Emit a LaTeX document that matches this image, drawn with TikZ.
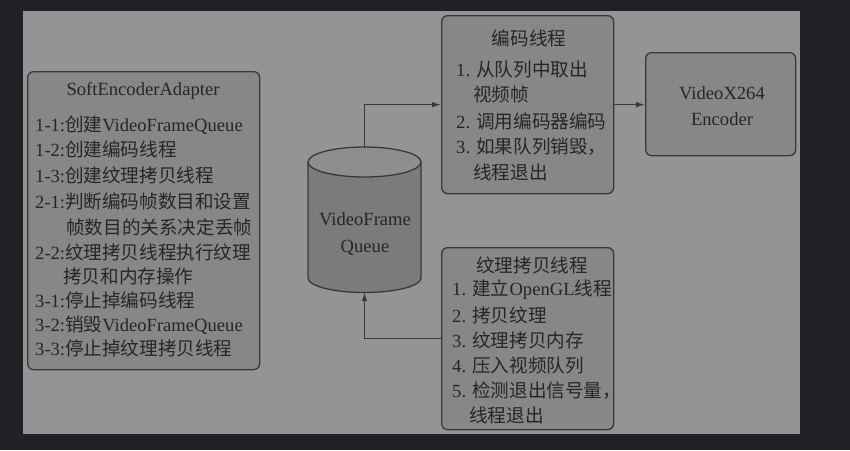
\documentclass[tikz,border=0pt]{standalone}
\usepackage{fontspec}
\setmainfont{Liberation Serif}
\newfontfamily\cjk{Noto Sans CJK SC}
\newcommand{\zh}[1]{{\cjk #1}}
\usetikzlibrary{arrows.meta}
\definecolor{bgdark}{HTML}{202124}
\definecolor{panel}{HTML}{949496}
\definecolor{boxfill}{HTML}{878788}
\definecolor{cylbody}{HTML}{7B7B7C}
\definecolor{cyltop}{HTML}{8E8E8F}
\definecolor{edge}{HTML}{383838}
\definecolor{ink}{HTML}{262626}
\begin{document}
\begin{tikzpicture}[x=1pt,y=-1pt,
  box/.style={draw=edge, line width=1.3pt, fill=boxfill, rounded corners=6pt, inner sep=0pt, anchor=north west},
  txt/.style={anchor=base west, inner sep=0pt, text=ink, font=\fontsize{18.6}{22}\selectfont},
  ctxt/.style={anchor=base, inner sep=0pt, text=ink, font=\fontsize{18.6}{22}\selectfont},
  conn/.style={draw=edge, line width=1.2pt, -{Latex[length=9pt,width=5.5pt]}}]
\useasboundingbox (0,0) rectangle (850,450);
\fill[bgdark] (0,0) rectangle (850,450);
\fill[panel] (23,11) rectangle (800,434);

% boxes
\node[box, minimum width=232pt, minimum height=298pt] (sea) at (27,71) {};
\node[box, minimum width=172pt, minimum height=178pt] (enc) at (441,15) {};
\node[box, minimum width=150pt, minimum height=103pt] (x264) at (645,52) {};
\node[box, minimum width=172pt, minimum height=182pt] (tex) at (441,247) {};

% cylinder
\draw[draw=edge, line width=1.3pt, fill=cylbody] (308,162) -- (308,278)
  arc[start angle=180, end angle=0, x radius=56.5, y radius=14.5] -- (421,162) -- cycle;
\draw[draw=edge, line width=1.3pt, fill=cyltop] (364.5,162) ellipse [x radius=56.5, y radius=15];
\node[minimum width=113pt, minimum height=145pt, inner sep=0pt] (queue) at (364.5,219.5) {};

% SoftEncoderAdapter text
\node[ctxt] (seaT) at (143,95) {SoftEncoderAdapter};
\node[txt] (s1) at (35,131) {1-1:\zh{创建}VideoFrameQueue};
\node[txt] (s2) at (35,156) {1-2:\zh{创建编码线程}};
\node[txt] (s3) at (35,182) {1-3:\zh{创建纹理拷贝线程}};
\node[txt] (s4) at (35,208) {2-1:\zh{判断编码帧数目和设置}};
\node[txt] (s5) at (66,234) {\zh{帧数目的关系决定丢帧}};
\node[txt] (s6) at (35,259) {2-2:\zh{纹理拷贝线程执行纹理}};
\node[txt] (s7) at (63,283) {\zh{拷贝和内存操作}};
\node[txt] (s8) at (35,307) {3-1:\zh{停止掉编码线程}};
\node[txt] (s9) at (35,331) {3-2:\zh{销毁}VideoFrameQueue};
\node[txt] (s10) at (35,355) {3-3:\zh{停止掉纹理拷贝线程}};

% encode thread text
\node[ctxt] (encT) at (529,45) {\zh{编码线程}};
\node[txt] (e1) at (456,76) {1. \zh{从队列中取出}};
\node[txt] (e2) at (473,101) {\zh{视频帧}};
\node[txt] (e3) at (456,128) {2. \zh{调用编码器编码}};
\node[txt] (e4) at (456,153) {3. \zh{如果队列销毁，}};
\node[txt] (e5) at (473,179) {\zh{线程退出}};

% x264 text
\node[ctxt] (x1) at (722,99) {VideoX264};
\node[ctxt] (x2) at (722,125) {Encoder};

% queue text
\node[ctxt] (q1) at (365,225) {VideoFrame};
\node[ctxt] (q2) at (365,252) {Queue};

% texture thread text
\node[ctxt] (texT) at (532,272) {\zh{纹理拷贝线程}};
\node[txt] (t1) at (452,295) {1. \zh{建立}OpenGL\zh{线程}};
\node[txt] (t2) at (452,322) {2. \zh{拷贝纹理}};
\node[txt] (t3) at (452,347) {3. \zh{纹理拷贝内存}};
\node[txt] (t4) at (452,372) {4. \zh{压入视频队列}};
\node[txt] (t5) at (452,397) {5. \zh{检测退出信号量，}};
\node[txt] (t6) at (469,422) {\zh{线程退出}};

% connectors
\draw[conn] (queue.north) |- (enc.west);
\draw[conn] (enc.east) -- (enc.east -| x264.west);
\draw[conn] (tex.west) -| (queue.south);
\end{tikzpicture}
\end{document}
